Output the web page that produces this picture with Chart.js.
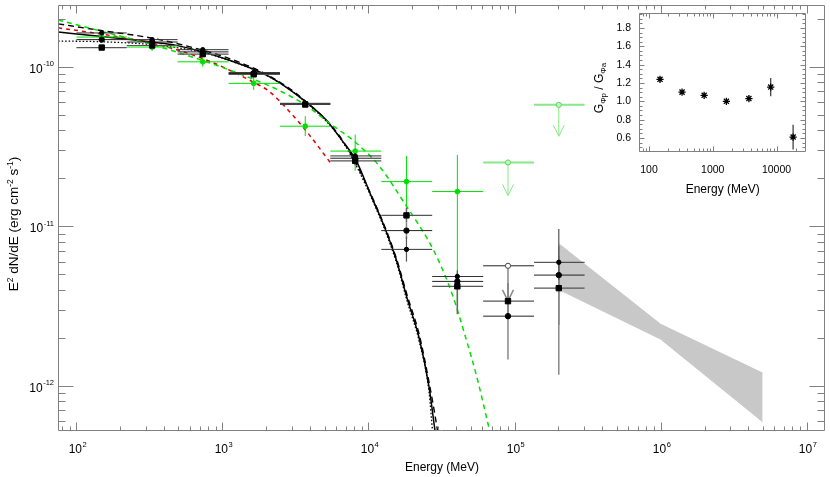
<!DOCTYPE html>
<html>
<head>
<meta charset="utf-8">
<script src="https://cdn.jsdelivr.net/npm/chart.js@4.4.0/dist/chart.umd.min.js"></script>
<style>
  html, body { margin: 0; padding: 0; background: #fff; }
  #wrap { position: relative; width: 830px; height: 477px; }
  #main { position: absolute; left: 0; top: 0; }
  #inset { position: absolute; left: 560px; top: 0; }
</style>
</head>
<body>
<div id="wrap">
  <canvas id="main" width="830" height="477"></canvas>
  <canvas id="inset" width="270" height="200"></canvas>
</div>
<script>
// Bins de energia (MeV)
const binE  = [149, 330, 733, 1637, 3690, 8110, 18200, 40600, 90200, 201000];
const binLo = [100, 221, 493, 1101, 2477, 5480, 12240, 27300, 61000, 136000];
const binHi = [221, 493, 1101, 2477, 5480, 12240, 27300, 61000, 136000, 302000];

// Quadrados pretos
const sqFlux = [1.32e-10, 1.36e-10, 1.20e-10, 8.97e-11, 5.80e-11, 2.57e-11, 1.17e-11, 4.20e-12, 3.39e-12, 4.09e-12];
const sqLo   = [1.28e-10, 1.32e-10, 1.16e-10, 8.70e-11, 5.60e-11, 2.40e-11, 1.06e-11, 2.81e-12, 2.60e-12, 2.40e-12];
const sqHi   = [1.36e-10, 1.40e-10, 1.24e-10, 9.30e-11, 6.00e-11, 2.75e-11, 1.30e-11, 4.70e-12, 4.40e-12, 6.50e-12];

// Circulos pretos
const ciFlux = [1.48e-10, 1.43e-10, 1.24e-10, 9.08e-11, 5.85e-11, 2.67e-11, 9.39e-12, 4.51e-12, 2.73e-12, 4.94e-12];
const ciLo   = [1.44e-10, 1.39e-10, 1.20e-10, 8.80e-11, 5.65e-11, 2.55e-11, 8.30e-12, 4.00e-12, 1.46e-12, 1.17e-12];
const ciHi   = [1.52e-10, 1.47e-10, 1.28e-10, 9.40e-11, 6.05e-11, 2.80e-11, 1.06e-11, 5.10e-12, 3.90e-12, 7.50e-12];

// Pontos pretos pequenos
const dotFlux = [1.63e-10, 1.48e-10, 1.28e-10, 9.20e-11, 5.90e-11, 2.76e-11, 7.16e-12, 4.84e-12, null, 5.94e-12];
const dotLo   = [1.58e-10, 1.44e-10, 1.24e-10, 8.90e-11, 5.70e-11, 2.60e-11, 6.00e-12, 4.40e-12, null, 4.60e-12];
const dotHi   = [1.68e-10, 1.52e-10, 1.32e-10, 9.50e-11, 6.10e-11, 2.90e-11, 8.60e-12, 5.30e-12, null, 9.60e-12];
const dotUL    = [null, null, null, null, null, null, null, null, 5.65e-12, null];
const dotULEnd = [null, null, null, null, null, null, null, null, 3.40e-12, null];

// Serie verde
const grFlux = [1.536e-10, 1.33e-10, 1.074e-10, 7.87e-11, 4.24e-11, 2.96e-11, 1.905e-11, 1.65e-11, null, null];
const grLo   = [1.45e-10, 1.26e-10, 1.00e-10, 7.16e-11, 3.68e-11, 2.23e-11, 1.17e-11, 3.00e-12, null, null];
const grHi   = [1.62e-10, 1.41e-10, 1.14e-10, 8.66e-11, 4.90e-11, 3.76e-11, 2.76e-11, 2.80e-11, null, null];
const grUL    = [null, null, null, null, null, null, null, null, 2.51e-11, 5.77e-11];
const grULEnd = [null, null, null, null, null, null, null, null, 1.56e-11, 3.67e-11];

// Curvas dos modelos
const solidE = [75, 144, 331, 483, 1117, 2096, 3693, 5116, 6643, 8203, 10650, 12470, 15390, 18480, 22210, 26000, 28570, 29500];
const solidF = [1.650e-10, 1.553e-10, 1.426e-10, 1.362e-10, 1.099e-10, 8.67e-11, 6.06e-11, 4.66e-11, 3.42e-11, 2.60e-11, 1.484e-11, 1.063e-11, 6.29e-12, 3.48e-12, 2.00e-12, 9.80e-13, 5.20e-13, 4.30e-13];
const dashE = [75, 144, 331, 733, 1117, 2096, 3693, 6643, 10650, 15390, 18480, 22210, 26000, 29720, 30600];
const dashF = [1.858e-10, 1.693e-10, 1.510e-10, 1.27e-10, 1.126e-10, 8.77e-11, 6.10e-11, 3.46e-11, 1.51e-11, 6.45e-12, 3.64e-12, 2.11e-12, 1.048e-12, 5.20e-13, 4.30e-13];
const dotCurveE = [75, 144, 331, 733, 1117, 2096, 3693, 6643, 10650, 15390, 18480, 22210, 26000, 27480, 28300];
const dotCurveF = [1.450e-10, 1.436e-10, 1.375e-10, 1.23e-10, 1.094e-10, 8.64e-11, 6.03e-11, 3.39e-11, 1.457e-11, 6.09e-12, 3.34e-12, 1.91e-12, 9.09e-13, 5.20e-13, 4.30e-13];
const redE = [75, 144, 331, 733, 1637, 2096, 2871, 3933, 5473];
const redF = [1.754e-10, 1.610e-10, 1.405e-10, 1.126e-10, 7.99e-11, 6.99e-11, 5.25e-11, 3.74e-11, 2.51e-11];
const greenE = [75, 144, 331, 733, 1637, 2454, 3693, 5387, 8203, 11830, 18010, 26000, 30420, 37520, 46330, 55600, 67600, 70500];
const greenF = [1.967e-10, 1.681e-10, 1.375e-10, 1.094e-10, 8.34e-11, 7.09e-11, 5.77e-11, 4.44e-11, 3.34e-11, 2.39e-11, 1.356e-11, 7.99e-12, 6.00e-12, 3.73e-12, 2.00e-12, 1.105e-12, 5.20e-13, 4.40e-13];

// Faixa cinza (butterfly)
const bandE  = [2e5, 1e6, 5e6];
const bandUp = [7.8e-12, 2.43e-12, 1.20e-12];
const bandDn = [4.02e-12, 1.96e-12, 5.94e-13];

// Inset: razao
const ratioE   = [149, 330, 733, 1637, 3690, 8110, 18200];
const ratioVal = [1.24, 1.10, 1.065, 1.00, 1.03, 1.155, 0.61];
const ratioErr = [0.02, 0.015, 0.015, 0.015, 0.02, 0.10, 0.135];

// Ticks
const xMainTicks = [1e2, 1e3, 1e4, 1e5, 1e6, 1e7];
const xMainExp   = ['2', '3', '4', '5', '6', '7'];
const yMainTicks = [1e-12, 1e-11, 1e-10];
const yMainExp   = ['-12', '-11', '-10'];
const xInsetTicks  = [100, 1000, 10000];
const xInsetLabels = ['100', '1000', '10000'];
const yInsetTicks  = [0.6, 0.8, 1.0, 1.2, 1.4, 1.6, 1.8];
const yInsetLabels = ['0.6', '0.8', '1.0', '1.2', '1.4', '1.6', '1.8'];

const FONT = '"Liberation Sans", Arial, sans-serif';
const GREEN = '#00e000';

function zip(xs, ys) {
  return xs.map((x, i) => ({ x: x, y: ys[i] }));
}

function pontos(flux, lo, hi) {
  const pts = [];
  flux.forEach((f, i) => {
    if (f !== null) pts.push({ x: binE[i], y: f, xMin: binLo[i], xMax: binHi[i], yMin: lo[i], yMax: hi[i] });
  });
  return pts;
}

function limites(ul, end) {
  const pts = [];
  ul.forEach((f, i) => {
    if (f !== null) pts.push({ x: binE[i], y: f, xMin: binLo[i], xMax: binHi[i], yMin: end[i], ul: true });
  });
  return pts;
}

function minorLog(d0, d1) {
  const out = [];
  for (let d = d0; d <= d1; d++) for (let m = 2; m <= 9; m++) out.push(m * Math.pow(10, d));
  return out;
}

// Barras de erro de um dataset
function desenhaBarras(chart, ds) {
  const ctx = chart.ctx;
  const sx = chart.scales.x, sy = chart.scales.y;
  ds.data.forEach(p => {
    const px = sx.getPixelForValue(p.x), py = sy.getPixelForValue(p.y);
    if (p.xMin !== undefined) {
      ctx.strokeStyle = ds.barra.cor;
      ctx.lineWidth = ds.barra.largura;
      ctx.beginPath();
      ctx.moveTo(sx.getPixelForValue(p.xMin), py);
      ctx.lineTo(sx.getPixelForValue(p.xMax), py);
      ctx.stroke();
    }
    ctx.strokeStyle = ds.barra.corV || ds.barra.cor;
    ctx.lineWidth = ds.barra.larguraV || 1;
    ctx.beginPath();
    if (p.ul) {
      const pe = sy.getPixelForValue(p.yMin);
      ctx.moveTo(px, py);
      ctx.lineTo(px, pe);
      ctx.moveTo(px - 5.5, pe - 11);
      ctx.lineTo(px, pe);
      ctx.lineTo(px + 5.5, pe - 11);
    } else {
      ctx.moveTo(px, sy.getPixelForValue(p.yMax));
      ctx.lineTo(px, sy.getPixelForValue(p.yMin));
    }
    ctx.stroke();
  });
}

// Plugin: todas as barras antes do primeiro conjunto de marcadores
const barras = {
  id: 'barras',
  beforeDatasetDraw(chart, args) {
    const sets = chart.data.datasets;
    let ultimo = -1;
    sets.forEach((ds, i) => { if (ds.barra) ultimo = i; });
    if (args.index !== ultimo) return;
    const { ctx, chartArea: a } = chart;
    ctx.save();
    ctx.beginPath();
    ctx.rect(a.left, a.top, a.right - a.left, a.bottom - a.top);
    ctx.clip();
    for (let i = sets.length - 1; i >= 0; i--) {
      if (sets[i].barra) desenhaBarras(chart, sets[i]);
    }
    ctx.restore();
  }
};

// Moldura com ticks para dentro nos quatro lados
function moldura(chart, c) {
  const { ctx, chartArea: a } = chart;
  const sx = chart.scales.x, sy = chart.scales.y;
  const L = Math.round(a.left) + 0.5, R = Math.round(a.right) - 0.5;
  const T = Math.round(a.top) + 0.5, B = Math.round(a.bottom) - 0.5;
  ctx.save();
  ctx.strokeStyle = c.cor;
  ctx.lineWidth = 1;
  ctx.beginPath();
  ctx.rect(L, T, R - L, B - T);
  const tx = (v, len) => {
    const p = Math.round(sx.getPixelForValue(v)) + 0.5;
    if (p < L || p > R) return;
    ctx.moveTo(p, B); ctx.lineTo(p, B - len);
    ctx.moveTo(p, T); ctx.lineTo(p, T + len);
  };
  const ty = (v, len) => {
    const p = Math.round(sy.getPixelForValue(v)) + 0.5;
    if (p < T || p > B) return;
    ctx.moveTo(L, p); ctx.lineTo(L + len, p);
    ctx.moveTo(R, p); ctx.lineTo(R - len, p);
  };
  c.xMajor.forEach(v => tx(v, c.xLen[0]));
  c.xMinor.forEach(v => tx(v, c.xLen[1]));
  c.yMajor.forEach(v => ty(v, c.yLen[0]));
  c.yMinor.forEach(v => ty(v, c.yLen[1]));
  ctx.stroke();
  ctx.restore();
}

// Texto com partes sobrescritas/subscritas
function composto(ctx, parts, x, y, rot) {
  ctx.save();
  ctx.translate(x, y);
  if (rot) ctx.rotate(-Math.PI / 2);
  let total = 0;
  parts.forEach(p => { ctx.font = p[1] + 'px ' + FONT; total += ctx.measureText(p[0]).width; });
  let cx = -total / 2;
  ctx.fillStyle = '#000';
  ctx.textAlign = 'left';
  ctx.textBaseline = 'alphabetic';
  parts.forEach(p => {
    ctx.font = p[1] + 'px ' + FONT;
    ctx.fillText(p[0], cx, -p[2]);
    cx += ctx.measureText(p[0]).width;
  });
  ctx.restore();
}

function potencia(ctx, exp, x, y, align) {
  ctx.font = '12px ' + FONT;
  const w1 = ctx.measureText('10').width;
  ctx.font = '7.5px ' + FONT;
  const w2 = ctx.measureText(exp).width;
  const x0 = align === 'right' ? x - w1 - w2 - 0.5 : x - (w1 + w2) / 2;
  ctx.fillStyle = '#000';
  ctx.textAlign = 'left';
  ctx.textBaseline = 'alphabetic';
  ctx.font = '12px ' + FONT;
  ctx.fillText('10', x0, y);
  ctx.font = '7.5px ' + FONT;
  ctx.fillText(exp, x0 + w1 + 0.5, y - 6.5);
}

const eixosMain = {
  id: 'eixosMain',
  afterDraw(chart) {
    const { ctx } = chart;
    const sx = chart.scales.x, sy = chart.scales.y;
    moldura(chart, {
      cor: '#808080',
      xMajor: xMainTicks, xMinor: minorLog(1, 7), xLen: [8, 4],
      yMajor: yMainTicks, yMinor: minorLog(-13, -10), yLen: [15, 7]
    });
    xMainTicks.forEach((v, i) => potencia(ctx, xMainExp[i], sx.getPixelForValue(v) + 1, 453, 'center'));
    yMainTicks.forEach((v, i) => potencia(ctx, yMainExp[i], 54, sy.getPixelForValue(v) + 6, 'right'));
    composto(ctx, [['Energy (MeV)', 12, 0]], 442, 471, false);
    composto(ctx, [['E', 13.5, 0], ['2', 8.5, 5.5], [' dN/dE (erg cm', 13.5, 0], ['-2', 8.5, 5.5], [' s', 13.5, 0], ['-1', 8.5, 5.5], [')', 13.5, 0]], 18, 224, true);
  }
};

const eixosInset = {
  id: 'eixosInset',
  afterDraw(chart) {
    const { ctx } = chart;
    const sx = chart.scales.x, sy = chart.scales.y;
    const yMinor = [];
    for (let k = 9; k <= 39; k++) yMinor.push(k * 0.05);
    moldura(chart, {
      cor: '#808080',
      xMajor: xInsetTicks, xMinor: minorLog(1, 4), xLen: [5, 3],
      yMajor: yInsetTicks, yMinor: yMinor, yLen: [5, 3]
    });
    ctx.save();
    ctx.fillStyle = '#000';
    ctx.font = '10.5px ' + FONT;
    ctx.textAlign = 'right';
    ctx.textBaseline = 'middle';
    yInsetTicks.forEach((v, i) => ctx.fillText(yInsetLabels[i], 71, sy.getPixelForValue(v)));
    ctx.textAlign = 'center';
    ctx.textBaseline = 'alphabetic';
    xInsetTicks.forEach((v, i) => ctx.fillText(xInsetLabels[i], sx.getPixelForValue(v), 173));
    ctx.restore();
    composto(ctx, [['Energy (MeV)', 12, 0]], 162.7, 193, false);
    composto(ctx, [['G', 12, 0], ['\u03A6p', 8, -3], [' / G', 12, 0], ['\u03A6a', 8, -3]], 43, 88, true);
  }
};

// Grafico principal
const linhaBase = { showLine: true, pointRadius: 0, fill: false, cubicInterpolationMode: 'monotone' };

new Chart(document.getElementById('main'), {
  type: 'scatter',
  data: {
    datasets: [
      { data: limites(grUL, grULEnd), pointStyle: 'circle', pointRadius: 2.6, pointBackgroundColor: '#c8f5c8',
        pointBorderColor: '#55d855', pointBorderWidth: 1, barra: { cor: '#88e888', largura: 2, corV: '#88e888', larguraV: 1 } },
      { data: limites(dotUL, dotULEnd), pointStyle: 'circle', pointRadius: 2.6, pointBackgroundColor: '#fff',
        pointBorderColor: '#444', pointBorderWidth: 1, barra: { cor: '#222', largura: 1, corV: '#888', larguraV: 1.5 } },
      { data: pontos(dotFlux, dotLo, dotHi), pointStyle: 'circle', pointRadius: 2.2, pointBackgroundColor: '#000',
        pointBorderColor: '#000', barra: { cor: '#333', largura: 1, corV: '#555', larguraV: 1.2 } },
      { data: pontos(ciFlux, ciLo, ciHi), pointStyle: 'circle', pointRadius: 2.7, pointBackgroundColor: '#000',
        pointBorderColor: '#000', barra: { cor: '#222', largura: 1, corV: '#888', larguraV: 1.5 } },
      { data: pontos(sqFlux, sqLo, sqHi), pointStyle: 'rect', pointRadius: 3.8, pointBackgroundColor: '#000',
        pointBorderColor: '#000', barra: { cor: '#555', largura: 1.2, corV: '#666', larguraV: 1.5 } },
      { data: pontos(grFlux, grLo, grHi), pointStyle: 'circle', pointRadius: 2.4, pointBackgroundColor: GREEN,
        pointBorderColor: GREEN, barra: { cor: GREEN, largura: 1, corV: GREEN, larguraV: 1 } },
      Object.assign({ data: zip(greenE, greenF), borderColor: GREEN, borderWidth: 1.5, borderDash: [5, 4] }, linhaBase),
      Object.assign({ data: zip(redE, redF), borderColor: '#e00000', borderWidth: 1.5, borderDash: [4, 4] }, linhaBase),
      Object.assign({ data: zip(dotCurveE, dotCurveF), borderColor: '#000', borderWidth: 1.3, borderDash: [1.5, 2] }, linhaBase),
      Object.assign({ data: zip(dashE, dashF), borderColor: '#000', borderWidth: 1.4, borderDash: [6, 4] }, linhaBase),
      Object.assign({ data: zip(solidE, solidF), borderColor: '#000', borderWidth: 1.5 }, linhaBase),
      { data: zip(bandE, bandUp), showLine: true, pointRadius: 0, borderColor: '#c8c8c8', borderWidth: 1, fill: false },
      { data: zip(bandE, bandDn), showLine: true, pointRadius: 0, borderColor: '#c8c8c8', borderWidth: 1,
        backgroundColor: '#c8c8c8', fill: '-1' }
    ]
  },
  options: {
    responsive: false,
    animation: false,
    devicePixelRatio: 1,
    events: [],
    layout: { padding: { left: 58, right: 4, top: 1, bottom: 46 } },
    plugins: { legend: { display: false }, tooltip: { enabled: false } },
    scales: {
      x: { type: 'logarithmic', min: 74.8, max: 1.337e7, display: false },
      y: { type: 'logarithmic', min: 5.2e-13, max: 2.44e-10, display: false }
    }
  },
  plugins: [barras, eixosMain]
});

// Inset
new Chart(document.getElementById('inset'), {
  type: 'scatter',
  data: {
    datasets: [{
      data: ratioE.map((e, i) => ({ x: e, y: ratioVal[i], yMin: ratioVal[i] - ratioErr[i], yMax: ratioVal[i] + ratioErr[i] })),
      pointStyle: 'star', pointRadius: 3.6, pointBorderColor: '#000', pointBorderWidth: 1.3,
      barra: { cor: '#333', largura: 1, corV: '#333', larguraV: 1.2 }
    }]
  },
  options: {
    responsive: false,
    animation: false,
    devicePixelRatio: 1,
    events: [],
    layout: { padding: { left: 79.3, right: 24, top: 13.3, bottom: 48.3 } },
    plugins: { legend: { display: false }, tooltip: { enabled: false } },
    scales: {
      x: { type: 'logarithmic', min: 70.5, max: 29000, display: false },
      y: { type: 'linear', min: 0.45, max: 1.96, display: false }
    }
  },
  plugins: [barras, eixosInset]
});
</script>
</body>
</html>
